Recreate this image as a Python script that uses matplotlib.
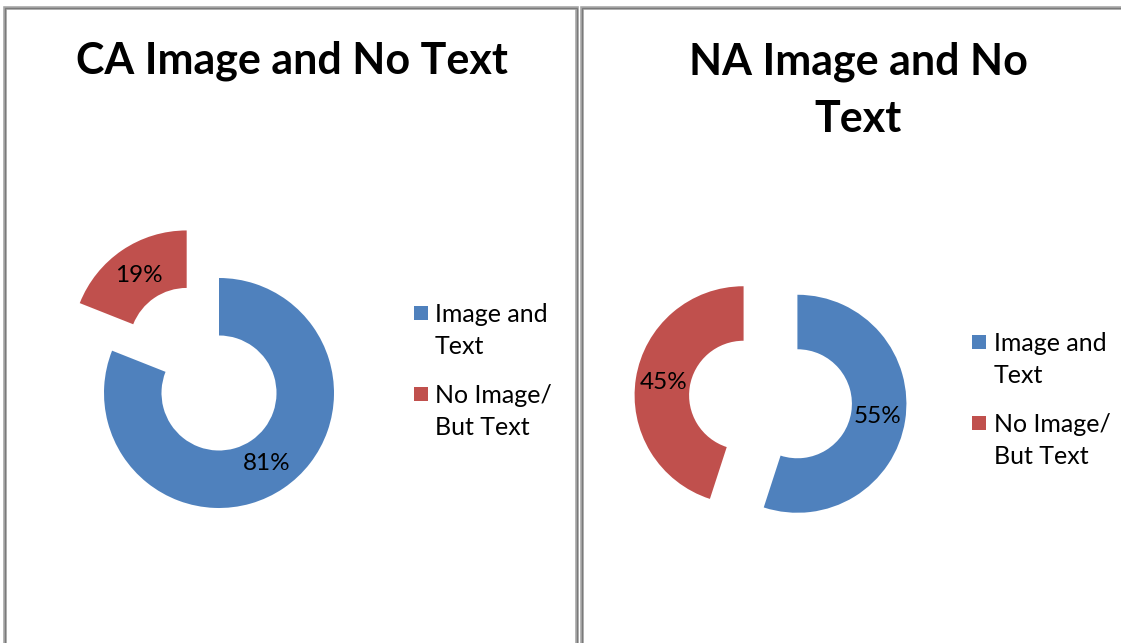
import matplotlib
matplotlib.use("Agg")
import matplotlib.pyplot as plt
from matplotlib.patches import Rectangle

# data
categories = ["Image and\nText", "No Image/\nBut Text"]
colors = ["#4F81BD", "#C0504D"]
titles = ["CA Image and No Text", "NA Image and No\nText"]
ca_values = [81, 19]
na_values = [55, 45]
ca_explode = [0.0, 0.5]
na_explode = [0.25, 0.25]

W, H = 1121, 643
plt.rcParams["font.family"] = ["Lato", "DejaVu Sans"]
fig = plt.figure(figsize=(W / 100, H / 100), dpi=100)
fig.patch.set_facecolor("white")


def fx(px):
    return px / W


def fy(py):
    return 1 - py / H


def panel_frame(x0, x1, y0, y1):
    for lw, col in [(2.6, "#a6a6a6"), (0.9, "#7a7a7a")]:
        fig.patches.append(Rectangle((fx(x0), fy(y1)), fx(x1) - fx(x0), fy(y0) - fy(y1),
                                     transform=fig.transFigure, fill=False,
                                     edgecolor=col, linewidth=lw, zorder=0))


def donut(cx, cy, r, values, explode):
    half = 1.9 * r
    ax = fig.add_axes([fx(cx - half), fy(cy + half), 2 * half / W, 2 * half / H])
    ax.pie(values, colors=colors, explode=explode, startangle=90, counterclock=False,
           radius=1, wedgeprops=dict(width=0.5, linewidth=0),
           autopct=lambda p: f"{p:.0f}%", pctdistance=0.74,
           textprops=dict(fontsize=17.5, color="black"))
    ax.set_xlim(-1.9, 1.9)
    ax.set_ylim(-1.9, 1.9)
    ax.axis("off")
    return ax


def legend_block(x_sq, x_txt, y_first, step=33):
    # y_first: centre of the first line of each entry
    for i, (lab, col) in enumerate(zip(categories, colors)):
        y = y_first[i]
        fig.patches.append(Rectangle((fx(x_sq), fy(y + 7)), 14 / W, 14 / H,
                                     transform=fig.transFigure, facecolor=col,
                                     edgecolor="none"))
        fig.text(fx(x_txt), fy(y + step / 2 + 1), lab, fontsize=18, ha="left", va="center",
                 linespacing=1.5)


panel_frame(5, 577, 8, 660)
panel_frame(582, 1140, 8, 660)

donut(219, 393, 115, ca_values, ca_explode)
donut(770.5, 399.5, 109, na_values, na_explode)

fig.text(fx(292), fy(61), titles[0], fontsize=31, fontweight="bold", ha="center", va="center")
fig.text(fx(858), fy(90), titles[1], fontsize=31, fontweight="bold", ha="center", va="center",
         linespacing=1.5)

legend_block(414, 435, [313, 394])
legend_block(972, 994, [342, 423])

fig.savefig("out.png", dpi=100, facecolor="white")
